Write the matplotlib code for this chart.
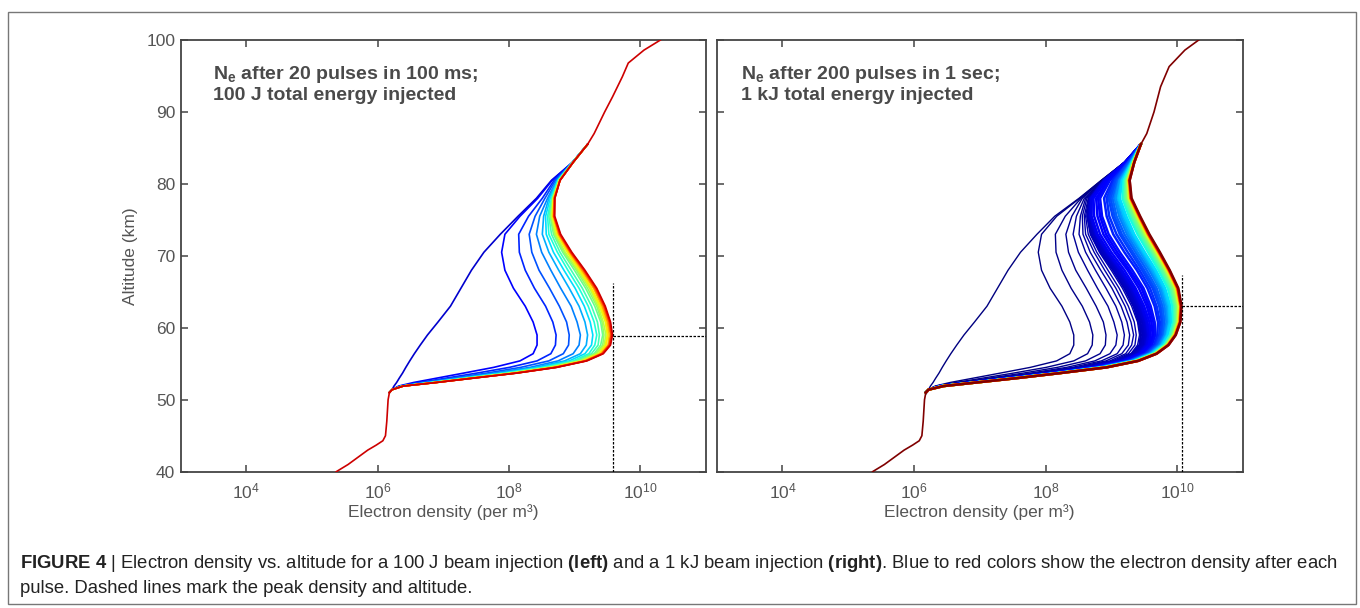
import matplotlib.pyplot as plt
import numpy as np
from matplotlib.ticker import FixedLocator, FixedFormatter, NullLocator
from matplotlib.patches import Rectangle

plt.rcParams['font.family'] = ['Liberation Sans', 'DejaVu Sans']
plt.rcParams['mathtext.fontset'] = 'custom'
plt.rcParams['mathtext.rm'] = 'Liberation Sans'
plt.rcParams['mathtext.it'] = 'Liberation Sans:italic'
plt.rcParams['mathtext.bf'] = 'Liberation Sans:bold'

# -----------------------------
# DATA (log10 of electron density, per m^3)
# -----------------------------
# altitudes (km) where the curves differ from pulse to pulse
ALT_GRID = [51.4, 51.9, 52.4, 53.0, 53.7, 54.5, 55.4, 56.4, 57.6, 59.0,
            60.8, 63.0, 65.5, 68.0, 70.5, 73.0, 75.5, 78.0, 80.5, 83.0]

# profile shared by all curves below the kink
LOW_ALT = [40.0, 41.0, 42.0, 43.0, 43.7, 44.3, 45.0, 47.0, 50.0, 51.0]
LOW_LOGNE = [5.37, 5.55, 5.70, 5.85, 5.98, 6.08, 6.12, 6.14, 6.16, 6.18]

# profile shared by all curves above the merge point
LEFT_TOP_ALT = [85.5, 87.0, 90.0, 92.1, 94.9, 96.8, 98.6, 100.0]
LEFT_TOP_LOGNE = [9.20, 9.30, 9.46, 9.58, 9.73, 9.82, 10.06, 10.31]
RIGHT_TOP_ALT = [85.5, 87.0, 90.0, 93.5, 96.3, 98.6, 100.0]
RIGHT_TOP_LOGNE = [9.45, 9.54, 9.65, 9.75, 9.88, 10.12, 10.33]

# left panel: one row per pulse (1..20) on ALT_GRID
LEFT_NE = [
    [6.22, 6.25, 6.29, 6.33, 6.38, 6.43, 6.49, 6.56, 6.65, 6.76, 6.92, 7.11, 7.27, 7.43, 7.62, 7.87, 8.14, 8.42, 8.65, 8.97],
    [6.22, 6.32, 6.55, 6.90, 7.31, 7.77, 8.17, 8.37, 8.43, 8.43, 8.37, 8.25, 8.07, 7.94, 7.89, 7.94, 8.17, 8.44, 8.66, 8.97],
    [6.22, 6.34, 6.64, 7.04, 7.51, 8.01, 8.43, 8.64, 8.71, 8.72, 8.67, 8.56, 8.39, 8.25, 8.16, 8.15, 8.30, 8.51, 8.69, 8.97],
    [6.22, 6.35, 6.70, 7.14, 7.66, 8.18, 8.61, 8.83, 8.91, 8.92, 8.88, 8.77, 8.62, 8.46, 8.35, 8.31, 8.40, 8.55, 8.71, 8.97],
    [6.22, 6.36, 6.75, 7.22, 7.77, 8.32, 8.75, 8.98, 9.07, 9.09, 9.04, 8.95, 8.79, 8.64, 8.50, 8.42, 8.47, 8.59, 8.73, 8.97],
    [6.22, 6.37, 6.78, 7.28, 7.85, 8.41, 8.85, 9.09, 9.18, 9.20, 9.16, 9.07, 8.92, 8.76, 8.61, 8.51, 8.53, 8.61, 8.74, 8.97],
    [6.22, 6.37, 6.81, 7.31, 7.91, 8.48, 8.92, 9.16, 9.26, 9.28, 9.24, 9.15, 9.01, 8.84, 8.68, 8.57, 8.56, 8.63, 8.75, 8.97],
    [6.22, 6.38, 6.83, 7.34, 7.95, 8.53, 8.98, 9.22, 9.31, 9.34, 9.30, 9.21, 9.07, 8.90, 8.74, 8.61, 8.59, 8.65, 8.75, 8.97],
    [6.22, 6.38, 6.84, 7.36, 7.98, 8.57, 9.02, 9.26, 9.36, 9.38, 9.35, 9.26, 9.12, 8.95, 8.78, 8.65, 8.61, 8.66, 8.76, 8.97],
    [6.22, 6.38, 6.85, 7.39, 8.01, 8.61, 9.06, 9.30, 9.40, 9.43, 9.40, 9.31, 9.17, 9.00, 8.82, 8.68, 8.63, 8.67, 8.76, 8.98],
    [6.22, 6.38, 6.86, 7.40, 8.03, 8.62, 9.08, 9.32, 9.43, 9.45, 9.42, 9.34, 9.20, 9.03, 8.84, 8.70, 8.64, 8.67, 8.77, 8.98],
    [6.22, 6.39, 6.87, 7.41, 8.05, 8.64, 9.10, 9.34, 9.45, 9.48, 9.44, 9.36, 9.23, 9.05, 8.86, 8.71, 8.65, 8.68, 8.77, 8.98],
    [6.22, 6.39, 6.88, 7.42, 8.06, 8.66, 9.12, 9.37, 9.47, 9.50, 9.47, 9.38, 9.25, 9.07, 8.89, 8.73, 8.66, 8.68, 8.77, 8.98],
    [6.22, 6.39, 6.88, 7.43, 8.07, 8.67, 9.13, 9.38, 9.48, 9.51, 9.48, 9.40, 9.26, 9.09, 8.90, 8.74, 8.67, 8.68, 8.77, 8.98],
    [6.22, 6.39, 6.89, 7.44, 8.09, 8.69, 9.15, 9.40, 9.51, 9.53, 9.50, 9.42, 9.29, 9.11, 8.92, 8.76, 8.68, 8.69, 8.78, 8.98],
    [6.22, 6.39, 6.89, 7.44, 8.10, 8.70, 9.16, 9.41, 9.52, 9.55, 9.51, 9.43, 9.30, 9.12, 8.93, 8.76, 8.68, 8.69, 8.78, 8.98],
    [6.22, 6.39, 6.89, 7.45, 8.10, 8.71, 9.17, 9.42, 9.53, 9.56, 9.53, 9.45, 9.31, 9.14, 8.94, 8.77, 8.69, 8.69, 8.78, 8.98],
    [6.22, 6.39, 6.90, 7.45, 8.11, 8.72, 9.17, 9.42, 9.53, 9.56, 9.53, 9.45, 9.32, 9.14, 8.94, 8.78, 8.69, 8.70, 8.78, 8.98],
    [6.22, 6.39, 6.90, 7.45, 8.11, 8.72, 9.18, 9.43, 9.54, 9.57, 9.54, 9.46, 9.33, 9.15, 8.95, 8.78, 8.69, 8.70, 8.78, 8.98],
    [6.22, 6.39, 6.90, 7.46, 8.12, 8.73, 9.19, 9.44, 9.55, 9.58, 9.55, 9.47, 9.34, 9.16, 8.96, 8.79, 8.70, 8.70, 8.78, 8.98],
]

# right panel, pulses 1..20: same as the left panel below 78 km,
# values at 78.0, 80.5 and 83.0 km
RIGHT_EARLY_TAIL = [
    [8.51, 8.85, 9.20], [8.52, 8.85, 9.20], [8.54, 8.86, 9.20], [8.56, 8.86, 9.20],
    [8.59, 8.87, 9.21], [8.61, 8.87, 9.21], [8.63, 8.88, 9.21], [8.65, 8.88, 9.21],
    [8.66, 8.88, 9.21], [8.67, 8.89, 9.21], [8.67, 8.89, 9.21], [8.68, 8.89, 9.21],
    [8.68, 8.89, 9.21], [8.68, 8.89, 9.22], [8.69, 8.90, 9.22], [8.69, 8.90, 9.22],
    [8.69, 8.90, 9.22], [8.70, 8.90, 9.22], [8.70, 8.90, 9.22], [8.70, 8.90, 9.22],
]

RIGHT_LATE_PULSES = [22, 24, 26, 28, 32, 35, 39, 41, 45, 50, 55, 60, 65,
                     68, 75, 82, 90, 97, 105, 113, 122, 135, 150, 160, 180, 200]
RIGHT_LATE_NE = [
    [6.22, 6.39, 6.90, 7.47, 8.13, 8.74, 9.20, 9.45, 9.57, 9.60, 9.58, 9.50, 9.37, 9.20, 9.00, 8.83, 8.74, 8.73, 8.92, 9.21],
    [6.22, 6.40, 6.91, 7.47, 8.13, 8.75, 9.22, 9.47, 9.59, 9.63, 9.61, 9.54, 9.42, 9.25, 9.05, 8.88, 8.79, 8.77, 8.95, 9.22],
    [6.22, 6.40, 6.91, 7.48, 8.14, 8.76, 9.23, 9.48, 9.60, 9.65, 9.64, 9.57, 9.46, 9.28, 9.09, 8.92, 8.83, 8.80, 8.96, 9.22],
    [6.22, 6.40, 6.91, 7.48, 8.14, 8.77, 9.24, 9.50, 9.62, 9.67, 9.66, 9.60, 9.49, 9.32, 9.13, 8.96, 8.86, 8.83, 8.98, 9.23],
    [6.22, 6.41, 6.92, 7.49, 8.15, 8.79, 9.26, 9.52, 9.65, 9.70, 9.71, 9.66, 9.55, 9.39, 9.20, 9.03, 8.93, 8.89, 9.02, 9.25],
    [6.22, 6.41, 6.92, 7.50, 8.16, 8.80, 9.27, 9.53, 9.67, 9.73, 9.74, 9.69, 9.59, 9.43, 9.25, 9.08, 8.97, 8.93, 9.04, 9.26],
    [6.22, 6.42, 6.92, 7.50, 8.16, 8.82, 9.28, 9.55, 9.69, 9.75, 9.77, 9.73, 9.63, 9.47, 9.30, 9.13, 9.02, 8.96, 9.06, 9.26],
    [6.22, 6.42, 6.92, 7.51, 8.17, 8.82, 9.29, 9.56, 9.70, 9.77, 9.79, 9.75, 9.66, 9.50, 9.33, 9.16, 9.05, 8.99, 9.08, 9.27],
    [6.22, 6.42, 6.93, 7.51, 8.17, 8.83, 9.30, 9.57, 9.72, 9.79, 9.81, 9.78, 9.69, 9.54, 9.37, 9.20, 9.08, 9.02, 9.10, 9.28],
    [6.22, 6.42, 6.93, 7.52, 8.18, 8.84, 9.32, 9.58, 9.73, 9.81, 9.84, 9.81, 9.73, 9.58, 9.40, 9.24, 9.12, 9.05, 9.12, 9.29],
    [6.22, 6.43, 6.93, 7.52, 8.18, 8.85, 9.32, 9.59, 9.75, 9.82, 9.86, 9.84, 9.75, 9.61, 9.44, 9.27, 9.15, 9.07, 9.13, 9.30],
    [6.22, 6.43, 6.93, 7.53, 8.19, 8.86, 9.33, 9.60, 9.76, 9.84, 9.88, 9.86, 9.78, 9.63, 9.47, 9.30, 9.18, 9.10, 9.15, 9.30],
    [6.22, 6.43, 6.93, 7.53, 8.19, 8.87, 9.34, 9.61, 9.77, 9.85, 9.89, 9.88, 9.80, 9.66, 9.49, 9.33, 9.20, 9.11, 9.16, 9.31],
    [6.22, 6.43, 6.94, 7.53, 8.19, 8.87, 9.35, 9.62, 9.78, 9.86, 9.91, 9.90, 9.82, 9.68, 9.51, 9.35, 9.23, 9.13, 9.17, 9.31],
    [6.22, 6.44, 6.94, 7.54, 8.20, 8.88, 9.36, 9.63, 9.80, 9.89, 9.94, 9.93, 9.86, 9.72, 9.56, 9.40, 9.27, 9.17, 9.19, 9.32],
    [6.22, 6.44, 6.94, 7.54, 8.20, 8.89, 9.37, 9.64, 9.81, 9.90, 9.96, 9.96, 9.89, 9.75, 9.59, 9.43, 9.30, 9.19, 9.21, 9.32],
    [6.22, 6.44, 6.94, 7.54, 8.20, 8.90, 9.37, 9.65, 9.82, 9.92, 9.97, 9.97, 9.91, 9.77, 9.62, 9.45, 9.32, 9.21, 9.22, 9.33],
    [6.22, 6.44, 6.94, 7.55, 8.21, 8.90, 9.38, 9.66, 9.83, 9.93, 9.99, 9.99, 9.93, 9.80, 9.64, 9.48, 9.34, 9.23, 9.23, 9.33],
    [6.22, 6.44, 6.95, 7.55, 8.21, 8.91, 9.39, 9.67, 9.84, 9.94, 10.00, 10.01, 9.95, 9.82, 9.66, 9.50, 9.37, 9.25, 9.24, 9.34],
    [6.22, 6.45, 6.95, 7.55, 8.21, 8.91, 9.39, 9.67, 9.84, 9.95, 10.01, 10.02, 9.97, 9.83, 9.68, 9.52, 9.38, 9.26, 9.25, 9.34],
    [6.22, 6.45, 6.95, 7.55, 8.21, 8.92, 9.40, 9.68, 9.85, 9.96, 10.02, 10.03, 9.98, 9.85, 9.69, 9.53, 9.40, 9.27, 9.26, 9.34],
    [6.22, 6.45, 6.95, 7.56, 8.22, 8.92, 9.40, 9.68, 9.86, 9.96, 10.03, 10.05, 9.99, 9.86, 9.71, 9.55, 9.41, 9.29, 9.26, 9.34],
    [6.22, 6.45, 6.95, 7.56, 8.22, 8.92, 9.40, 9.68, 9.86, 9.97, 10.04, 10.05, 10.00, 9.87, 9.72, 9.56, 9.42, 9.29, 9.27, 9.35],
    [6.22, 6.45, 6.95, 7.56, 8.22, 8.93, 9.41, 9.69, 9.86, 9.97, 10.04, 10.06, 10.01, 9.88, 9.72, 9.56, 9.43, 9.30, 9.27, 9.35],
    [6.22, 6.45, 6.95, 7.56, 8.22, 8.93, 9.41, 9.69, 9.87, 9.98, 10.05, 10.06, 10.01, 9.88, 9.73, 9.57, 9.43, 9.30, 9.28, 9.35],
    [6.22, 6.45, 6.95, 7.56, 8.22, 8.93, 9.41, 9.69, 9.87, 9.98, 10.05, 10.07, 10.02, 9.89, 9.74, 9.58, 9.44, 9.31, 9.28, 9.35],
]

# peak markers: (density, altitude, top of the vertical dashed line)
LEFT_PEAK = (3.85e9, 58.9, 66.2)
RIGHT_PEAK = (1.19e10, 63.0, 67.3)

LEFT_NOTE = r"$\mathbf{N_e}$ after 20 pulses in 100 ms;" + "\n100 J total energy injected"
RIGHT_NOTE = r"$\mathbf{N_e}$ after 200 pulses in 1 sec;" + "\n1 kJ total energy injected"

CAPTION_1 = (r"$\mathbf{FIGURE\ 4}$ | Electron density vs. altitude for a 100 J beam injection "
             r"$\mathbf{(left)}$ and a 1 kJ beam injection $\mathbf{(right)}$. Blue to red colors "
             r"show the electron density after each")
CAPTION_2 = "pulse. Dashed lines mark the peak density and altitude."

X_TICKS = [1e4, 1e6, 1e8, 1e10]
X_TICK_LABELS = [r"$10^{4}$", r"$10^{6}$", r"$10^{8}$", r"$10^{10}$"]
Y_TICKS = [40, 50, 60, 70, 80, 90, 100]

TEXT_GRAY = "#555555"
AXIS_GRAY = "#444444"


def middle_part(row, top_alt, top_ne):
    # the pulse-dependent segment, joined to the shared profiles at both ends
    alt = np.array([LOW_ALT[-1]] + ALT_GRID + [top_alt[0]])
    ne = 10 ** np.array([LOW_LOGNE[-1]] + list(row) + [top_ne[0]])
    return ne, alt


def shared_parts(ax, top_alt, top_ne, color, lw):
    ax.plot(10 ** np.array(LOW_LOGNE), LOW_ALT, color=color, lw=lw, zorder=3)
    ax.plot(10 ** np.array(top_ne), top_alt, color=color, lw=lw, zorder=3)


def style_axes(ax, show_ylabels):
    ax.set_xscale("log")
    ax.set_xlim(1e3, 1e11)
    ax.set_ylim(40, 100)
    ax.xaxis.set_major_locator(FixedLocator(X_TICKS))
    ax.xaxis.set_major_formatter(FixedFormatter(X_TICK_LABELS))
    ax.xaxis.set_minor_locator(NullLocator())
    ax.set_yticks(Y_TICKS)
    ax.tick_params(direction="in", length=5, width=1.1, top=True, right=True,
                   color=AXIS_GRAY, labelcolor=TEXT_GRAY, labelsize=12.5, pad=4)
    ax.tick_params(axis="x", pad=7)
    if not show_ylabels:
        ax.tick_params(labelleft=False)
    for sp in ax.spines.values():
        sp.set_color(AXIS_GRAY)
        sp.set_linewidth(1.3)
    ax.set_xlabel("Electron density (per m³)", fontsize=12.5, color=TEXT_GRAY, labelpad=2)


def draw_peak(ax, peak):
    ne, alt, top = peak
    ax.plot([ne, ne], [40, top], color="black", lw=0.9, dashes=(2.0, 1.2), zorder=5)
    ax.plot([ne, 1e11], [alt, alt], color="black", lw=0.9, dashes=(2.0, 1.2), zorder=5)


fig = plt.figure(figsize=(13.6, 6.08), dpi=100)

# -----------------------------
# LEFT PANEL
# -----------------------------
axl = fig.add_axes([0.1329, 0.2242, 0.386, 0.710])
left_colors = plt.cm.jet(np.linspace(0.07, 0.93, len(LEFT_NE)))
for row, c in zip(LEFT_NE, left_colors):
    ne, alt = middle_part(row, LEFT_TOP_ALT, LEFT_TOP_LOGNE)
    axl.plot(ne, alt, color=c, lw=1.2)
shared_parts(axl, LEFT_TOP_ALT, LEFT_TOP_LOGNE, left_colors[-1], 1.2)
draw_peak(axl, LEFT_PEAK)
style_axes(axl, True)
axl.set_ylabel("Altitude (km)", fontsize=12.5, color=TEXT_GRAY, labelpad=6)
axl.text(0.061, 0.945, LEFT_NOTE, transform=axl.transAxes, ha="left", va="top",
         fontsize=14, fontweight="bold", color="#4a4a4a", linespacing=1.2)

# -----------------------------
# RIGHT PANEL
# -----------------------------
axr = fig.add_axes([0.527, 0.2242, 0.3868, 0.710])
right_rows = [row[:17] + tail for row, tail in zip(LEFT_NE, RIGHT_EARLY_TAIL)] + RIGHT_LATE_NE
right_pulses = list(range(1, len(LEFT_NE) + 1)) + RIGHT_LATE_PULSES
for row, p in zip(right_rows, right_pulses):
    ne, alt = middle_part(row, RIGHT_TOP_ALT, RIGHT_TOP_LOGNE)
    lw = 1.0 if p <= 10 else 1.8
    axr.plot(ne, alt, color=plt.cm.jet((p - 1) / 199), lw=lw)
shared_parts(axr, RIGHT_TOP_ALT, RIGHT_TOP_LOGNE, plt.cm.jet(1.0), 1.2)
draw_peak(axr, RIGHT_PEAK)
style_axes(axr, False)
axr.text(0.047, 0.945, RIGHT_NOTE, transform=axr.transAxes, ha="left", va="top",
         fontsize=14, fontweight="bold", color="#4a4a4a", linespacing=1.2)

# -----------------------------
# FRAME + CAPTION
# -----------------------------
fig.patches.append(Rectangle((8 / 1360, 4 / 608), 1348 / 1360, 592 / 608,
                             transform=fig.transFigure, fill=False,
                             edgecolor="#777777", lw=1.0))
fig.text(20 / 1360, 1 - 568 / 608, CAPTION_1, fontsize=13.3, color="#222222", va="baseline")
fig.text(20 / 1360, 1 - 593 / 608, CAPTION_2, fontsize=13.3, color="#222222", va="baseline")

fig.savefig("out.png", dpi=100, facecolor="white")
